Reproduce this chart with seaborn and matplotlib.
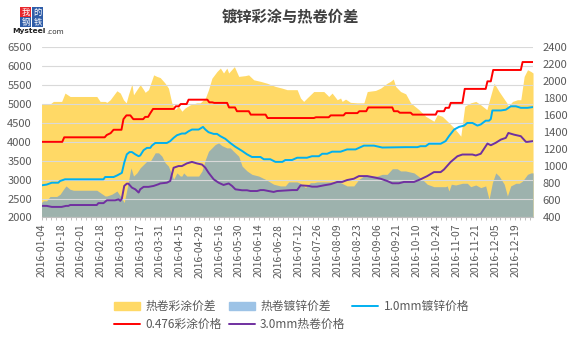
import numpy as np
import pandas as pd
import matplotlib
matplotlib.use("Agg")
import matplotlib.pyplot as plt
import seaborn as sns
from matplotlib.patches import Patch, Rectangle
from matplotlib.lines import Line2D

# ---------------- data (x = trading-day index, 0 = 2016-01-04) ----------------
tick_labels = ["2016-01-04", "2016-01-18", "2016-02-01", "2016-02-18", "2016-03-03",
               "2016-03-17", "2016-03-31", "2016-04-15", "2016-04-29", "2016-05-16",
               "2016-05-30", "2016-06-14", "2016-06-28", "2016-07-12", "2016-07-26",
               "2016-08-09", "2016-08-23", "2016-09-06", "2016-09-21", "2016-10-10",
               "2016-10-24", "2016-11-07", "2016-11-21", "2016-12-05", "2016-12-19"]

# 0.476彩涂价格 (left axis)
red_x = [0, 10.5, 11.5, 32, 33, 35, 36.5, 40.5, 41.5, 43, 45, 46.5, 51.5, 52.5, 54, 55, 56.5,
         67, 68, 69.5, 70.5, 73.5, 74.5, 84, 85, 86.5, 87.5, 94, 95, 98, 99, 105, 106, 113.5,
         114.5, 138, 139, 145.5, 146.5, 153, 154, 160, 161, 164.5, 165.5, 177.7, 178.5, 180.5,
         181.5, 187, 188, 199.7, 200.5, 203.9, 204.7, 206.4, 207.3, 213.2, 214.4, 225, 225.9,
         227.6, 228.8, 242.8, 243.7, 249]
red_y = [4000, 4000, 4120, 4120, 4180, 4230, 4320, 4320, 4600, 4700, 4700, 4600, 4600, 4660, 4660,
         4750, 4870, 4870, 4940, 4940, 5000, 5000, 5115, 5115, 5045, 5045, 5030, 5030, 4910, 4910,
         4810, 4810, 4720, 4720, 4630, 4630, 4650, 4650, 4700, 4700, 4760, 4760, 4810, 4810, 4910,
         4910, 4810, 4810, 4770, 4770, 4720, 4720, 4810, 4810, 4900, 4900, 5030, 5030, 5400, 5400,
         5600, 5600, 5900, 5900, 6110, 6110]

# 1.0mm镀锌价格 (left axis)
cyan_x = [0, 2.6, 5.2, 8.5, 9.4, 11.9, 31.4, 32.2, 36.5, 38.2, 40.7, 41.9, 43.2, 44.6, 45.8, 47.5,
          49.2, 50, 51.7, 53.4, 55.1, 55.9, 57.6, 63.5, 65.2, 66.9, 68.6, 71.1, 72.8, 74.5, 76.2,
          79.6, 81.8, 83, 84.6, 87.2, 88.9, 90.6, 93.1, 95.6, 98.2, 101.6, 104.1, 106.6, 110.9,
          112.6, 115.9, 118.5, 122, 123.5, 126.9, 129.5, 134.5, 137, 140.5, 142.2, 144.7, 147.2,
          151.5, 154.8, 159.1, 163.3, 168.4, 170.9, 172.6, 184.5, 190.4, 192, 194.6, 196.3, 202.2,
          204.7, 206.4, 209, 211.5, 214.1, 215.7, 218.3, 220.8, 222.5, 225, 226.7, 227.6, 228.4,
          232.7, 235.2, 237.7, 240.3, 242.8, 246.2, 249]
cyan_y = [2850, 2870, 2920, 2920, 2965, 3010, 3010, 3070, 3070, 3110, 3180, 3450, 3670, 3730, 3730,
          3670, 3620, 3640, 3780, 3840, 3840, 3900, 3970, 3970, 4020, 4105, 4175, 4220, 4220, 4280,
          4325, 4325, 4395, 4325, 4255, 4210, 4210, 4150, 4080, 3970, 3870, 3760, 3670, 3600, 3600,
          3540, 3540, 3470, 3470, 3520, 3520, 3580, 3580, 3620, 3620, 3685, 3685, 3740, 3740, 3800,
          3800, 3900, 3900, 3870, 3850, 3860, 3860, 3885, 3885, 3950, 3950, 4020, 4150, 4325, 4395,
          4430, 4500, 4500, 4430, 4460, 4560, 4560, 4605, 4830, 4830, 4850, 4940, 4940, 4900, 4900,
          4920]

# 3.0mm热卷价格 (left axis)
purple_x = [0, 2.6, 5.2, 10.2, 12.4, 13.6, 14.5, 28, 28.8, 31.4, 33.1, 37.3, 39, 39.9, 40.7, 41.9,
            43.2, 44, 45.8, 47.5, 49.2, 50, 51.7, 54.2, 56.8, 59.3, 60.1, 63.5, 65.2, 66.9, 69.4,
            71.1, 73.6, 76.2, 78.7, 81.3, 83, 84.6, 87.2, 89.7, 92.2, 94.8, 96.5, 98.2, 101.6,
            104.1, 105.8, 109.2, 110.9, 112.6, 115, 117.6, 119.3, 127, 129.5, 131.2, 135.4, 137,
            139.6, 143, 146.4, 149.8, 152.3, 154.8, 158.2, 160.8, 165, 167.5, 171.8, 175.1, 177.7,
            181, 183.6, 188.7, 192, 195.4, 198.8, 202.2, 203.9, 207.3, 210.7, 213.2, 218.3, 220,
            222.5, 225.9, 227.6, 230.1, 232.7, 235.2, 236.5, 239.4, 242.8, 245.4, 246.2, 249]
purple_y = [2307, 2307, 2280, 2280, 2307, 2307, 2330, 2330, 2380, 2380, 2455, 2455, 2480, 2440, 2500,
            2835, 2895, 2895, 2790, 2745, 2660, 2745, 2810, 2810, 2835, 2880, 2900, 2920, 2965, 3315,
            3360, 3360, 3430, 3470, 3430, 3400, 3315, 3185, 3010, 2920, 2860, 2900, 2835, 2745, 2720,
            2720, 2700, 2700, 2725, 2725, 2700, 2675, 2700, 2725, 2725, 2850, 2835, 2815, 2815, 2850,
            2880, 2940, 2940, 2990, 3025, 3095, 3095, 3070, 3025, 2965, 2905, 2905, 2940, 2940, 3010,
            3095, 3200, 3200, 3270, 3470, 3620, 3665, 3665, 3640, 3685, 3955, 3910, 3975, 4060, 4105,
            4235, 4190, 4150, 4000, 4000, 4020]

# 热卷彩涂价差 (right axis)
yellow_x = [0, 4.3, 6, 10.2, 11.9, 14.5, 28, 29.7, 32.2, 33.1, 34.8, 37.3, 38.2, 39.9, 41.5, 42.9,
            44, 45.8, 46.6, 48.3, 50, 51.7, 52.5, 54.2, 56.8, 58.4, 60.1, 61.8, 62.6, 64.3, 66,
            67.7, 69.4, 71.1, 72.8, 75.3, 78.7, 80.4, 83, 84.6, 86.3, 88.9, 90.6, 92.2, 93.9, 94.8,
            97.7, 99.9, 103.2, 104.9, 107.5, 110.9, 114.2, 118.5, 121.9, 124.4, 129.5, 131.2, 132.8,
            134.5, 136.2, 137.9, 143, 144.7, 145.5, 147.2, 149.8, 151.5, 152.3, 154, 156.5, 159.9,
            163.3, 165, 169.2, 171.8, 175.1, 176.8, 178.2, 179.4, 181.9, 184.5, 187, 191.2, 194.6,
            198.8, 200.5, 203, 205.6, 209, 212.4, 214.4, 217.4, 220, 222.5, 225.6, 227.2, 229.3,
            231.8, 233.5, 235.7, 236.5, 238.6, 241.1, 242.8, 244.5, 246.2, 247.9, 249]
yellow_y = [1733, 1733, 1764, 1764, 1862, 1822, 1822, 1764, 1764, 1753, 1784, 1862, 1889, 1862, 1784,
            1747, 1842, 1969, 1842, 1902, 1960, 1902, 1871, 1902, 2076, 2058, 2044, 2000, 1978, 1920,
            1747, 1667, 1707, 1649, 1689, 1724, 1747, 1747, 1804, 1902, 2036, 2116, 2156, 2098, 2156,
            2098, 2173, 2058, 2067, 2076, 2018, 2000, 1978, 1940, 1920, 1902, 1902, 1804, 1764, 1804,
            1842, 1880, 1880, 1842, 1822, 1862, 1784, 1804, 1764, 1791, 1753, 1747, 1747, 1880, 1893,
            1920, 1978, 2000, 2027, 1940, 1880, 1853, 1747, 1667, 1589, 1531, 1609, 1589, 1531, 1453,
            1356, 1707, 1747, 1764, 1724, 1667, 1804, 1978, 1880, 1822, 1747, 1707, 1764, 1784, 1784,
            2058, 2136, 2116, 2098]

# 热卷镀锌价差 (right axis)
gray_x = [0, 0.9, 2.6, 4.3, 7.7, 9.4, 11.1, 12.4, 14.5, 16.2, 28, 29.7, 32.2, 33.1, 35.6, 38.2,
          39.9, 41.9, 43.6, 45.3, 46.6, 48.3, 50, 53.4, 55.1, 57.6, 59.3, 61, 62.6, 64.3, 66.9,
          68.6, 70.3, 71.1, 72, 73.6, 79.6, 81.3, 83, 84.6, 88, 89.7, 91.4, 93.9, 95.6, 97.3, 99.9,
          101.6, 104.1, 106.6, 110, 113.4, 117.6, 121, 123.5, 125.2, 129.5, 131.2, 133.7, 136.2,
          138, 139.6, 148.1, 149.8, 151.5, 154.8, 158.2, 160.8, 163.3, 170.1, 172.6, 175.1, 177.7,
          180.2, 181.9, 184.4, 188.7, 191.2, 193.7, 195.4, 198.8, 204.7, 205.5, 206.4, 207.6,
          209.8, 213.2, 215.7, 217.4, 220, 222.5, 225, 226.7, 228.4, 230.1, 231.8, 234.4, 236,
          237.7, 240.3, 242, 243.7, 246.2, 247.9, 249]
gray_y = [576, 596, 596, 647, 647, 673, 731, 771, 731, 720, 720, 693, 653, 653, 673, 711, 653, 576,
          771, 984, 887, 924, 984, 1062, 1062, 1160, 1160, 1120, 1044, 1004, 849, 924, 887, 887, 924,
          887, 887, 947, 1080, 1178, 1258, 1276, 1244, 1218, 1218, 1178, 1120, 1004, 947, 907, 887,
          849, 791, 771, 771, 818, 818, 800, 751, 809, 809, 818, 818, 829, 809, 771, 771, 849, 887,
          887, 907, 907, 973, 973, 947, 947, 924, 880, 829, 791, 762, 762, 771, 711, 791, 782, 802,
          802, 762, 782, 751, 771, 613, 809, 924, 887, 791, 653, 771, 802, 802, 829, 907, 924, 924]

# ---------------- styling ----------------
sns.set_theme(style="white")
plt.rcParams["font.family"] = ["Noto Sans CJK SC", "DejaVu Sans"]
plt.rcParams["axes.unicode_minus"] = False

TXT = "#595959"
C_YEL = "#FFD966"
C_GRAY = "#9DB2AD"
C_BLUE_LEG = "#9DC3E6"
C_CYAN = "#00B0F0"
C_RED = "#FF0000"
C_PUR = "#7030A0"

fig = plt.figure(figsize=(5.72, 3.40), dpi=100)
ax = fig.add_axes([0.0726, 0.3603, 0.8593, 0.5006])

# areas (right axis, drawn behind)
ax.fill_between(yellow_x, 400, yellow_y, color=C_YEL, lw=0, zorder=1)
ax.fill_between(gray_x, 400, gray_y, color=C_GRAY, lw=0, zorder=2)
ax.set_ylim(400, 2400)
ax.set_yticks(np.arange(400, 2401, 200))
ax.yaxis.tick_right()
ax.set_xlim(0, 249)

# lines (left axis, drawn on top)
ax2 = ax.twinx()
ax2.set_axisbelow(True)
sns.lineplot(x=cyan_x, y=cyan_y, ax=ax2, color=C_CYAN, lw=1.4, estimator=None)
sns.lineplot(x=red_x, y=red_y, ax=ax2, color=C_RED, lw=1.4, estimator=None)
sns.lineplot(x=purple_x, y=purple_y, ax=ax2, color=C_PUR, lw=1.4, estimator=None)
ax2.set_ylim(2000, 6500)
ax2.set_yticks(np.arange(2000, 6501, 500))
ax2.yaxis.tick_left()
ax2.grid(axis="y", color="#D9D9D9", lw=0.8)
ax2.grid(axis="x", visible=False)
ax2.set_xlim(0, 249)

for a in (ax, ax2):
    for s in a.spines.values():
        s.set_visible(False)
    a.set_xlabel("")
    a.set_ylabel("")
ax.spines["bottom"].set_visible(True)
ax.spines["bottom"].set_color("#BFBFBF")
ax.spines["bottom"].set_linewidth(0.8)

ax.tick_params(axis="y", length=0, pad=7, labelsize=8, labelcolor=TXT,
               left=False, right=True, labelleft=False, labelright=True)
ax2.tick_params(axis="y", length=0, pad=7, labelsize=8, labelcolor=TXT,
                left=True, right=False, labelleft=True, labelright=False)

ax.set_xticks(np.arange(0, 241, 10))
ax.set_xticklabels(tick_labels, rotation=90)
ax.set_xticks(np.arange(0, 249.1, 2.5), minor=True)
ax.tick_params(axis="x", which="both", length=2.5, width=0.7, color="#BFBFBF",
               direction="out", bottom=True)
ax.tick_params(axis="x", which="major", pad=2, labelsize=7.5, labelcolor=TXT)

# title
fig.text(0.507, 0.948, "镀锌彩涂与热卷价差", ha="center", va="center",
         fontsize=11, fontweight="bold", color="#404040")

# logo
W, H = 572.0, 340.0
boxes = [("我", 20, 7, "#E8262C"), ("的", 32, 7, "#2F5DA8"),
         ("钢", 20, 17, "#2F5DA8"), ("铁", 32, 17, "#2F5DA8")]
for ch, bx, by, col in boxes:
    fig.add_artist(Rectangle((bx / W, 1 - (by + 10) / H), 11 / W, 10 / H,
                             transform=fig.transFigure, color=col, lw=0))
    fig.text((bx + 5.5) / W, 1 - (by + 5) / H, ch, ha="center", va="center",
             fontsize=6, color="white")
mys = fig.text(12 / W, 1 - 31.5 / H, "Mysteel", ha="left", va="center", fontsize=5.4,
               fontweight="bold", color="#222222", family=["DejaVu Sans"])
fig.text(44 / W, 1 - 31.5 / H, ".com", ha="left", va="center", fontsize=5.2,
         color="#333333", family=["DejaVu Sans"])

# legend
handles = [Patch(color=C_YEL), Line2D([], [], color=C_RED, lw=1.4),
           Patch(color=C_BLUE_LEG), Line2D([], [], color=C_PUR, lw=1.4),
           Line2D([], [], color=C_CYAN, lw=1.4)]
labels = ["热卷彩涂价差", "0.476彩涂价格", "热卷镀锌价差", "3.0mm热卷价格", "1.0mm镀锌价格"]
leg = fig.legend(handles, labels, loc="upper left", bbox_to_anchor=(114 / W, 1 - 300 / H),
                 ncol=3, frameon=False, fontsize=8.5, handlelength=2.2, handleheight=0.6,
                 handletextpad=0.45, columnspacing=0.6, labelspacing=0.45,
                 borderpad=0, borderaxespad=0)
for t in leg.get_texts():
    t.set_color(TXT)

fig.canvas.draw()
bb = mys.get_window_extent()
for t in fig.texts:
    if t.get_text() == ".com":
        t.set_x((bb.x1 + 0.5) / fig.bbox.width)

fig.savefig("out.png", dpi=100)
